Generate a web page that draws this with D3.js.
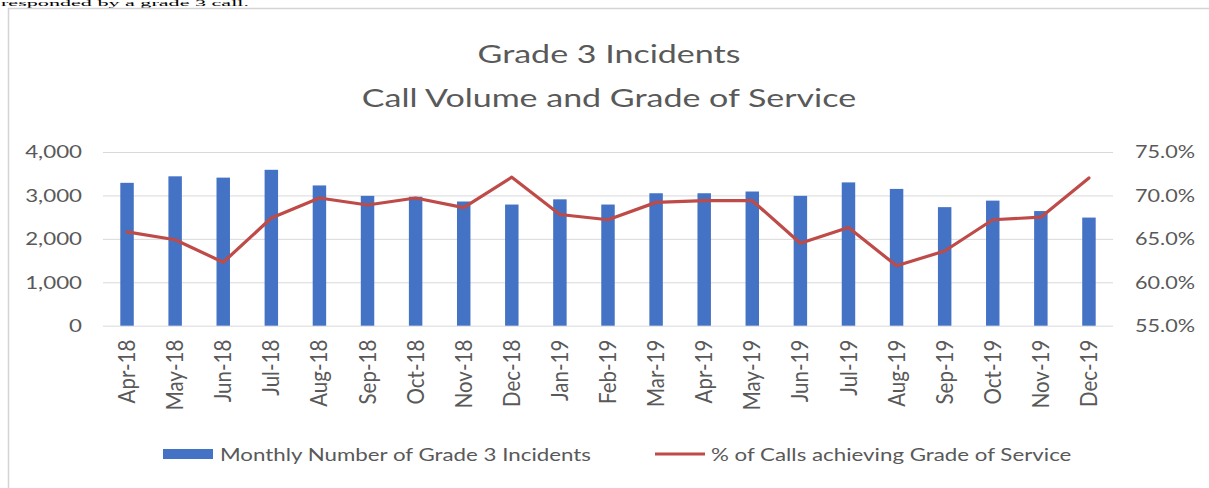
<!DOCTYPE html>
<html>
<head>
<meta charset="utf-8">
<script src="https://cdn.jsdelivr.net/npm/d3@7"></script>
<style>
  body { margin: 0; background: #fff; }
  svg { display: block; }
</style>
</head>
<body>
<svg id="chart" width="1209" height="488"></svg>
<script>
// Monthly categories
const months = ["Apr-18","May-18","Jun-18","Jul-18","Aug-18","Sep-18","Oct-18","Nov-18","Dec-18",
  "Jan-19","Feb-19","Mar-19","Apr-19","May-19","Jun-19","Jul-19","Aug-19","Sep-19","Oct-19","Nov-19","Dec-19"];
// Monthly number of grade 3 incidents
const incidents = [3290,3440,3410,3590,3230,2990,2970,2860,2790,2910,2790,3050,3050,3090,2990,3300,3150,2730,2880,2640,2490];
// % of calls achieving grade of service
const gosPct = [65.8,64.9,62.3,67.4,69.7,68.9,69.7,68.6,72.1,67.8,67.2,69.2,69.4,69.4,64.5,66.3,61.9,63.6,67.2,67.5,72.0];
const leftTicks = [0,1000,2000,3000,4000];
const rightTicks = [55,60,65,70,75];
const titleLines = ["Grade 3 Incidents", "Call Volume and Grade of Service"];
const seriesNames = ["Monthly Number of Grade 3 Incidents", "% of Calls achieving Grade of Service"];

const FONT = "Lato, 'Open Sans', sans-serif";
const TEXT = "#595959";
const BAR = "#4472c4";
const LINE = "#be4b48";
const SX = 1.24;       // horizontal widening of axis and legend text
const SX_TITLE = 1.36; // horizontal widening of title text

const svg = d3.select("#chart");

// Running paragraph text above the chart frame
svg.append("text")
  .attr("x", 1).attr("y", 6)
  .attr("font-family", "'Liberation Serif', 'Times New Roman', serif")
  .attr("font-size", 8).attr("fill", "#000")
  .attr("textLength", 248).attr("lengthAdjust", "spacingAndGlyphs")
  .text("responded by a grade 3 call.");

// Chart frame
svg.append("rect")
  .attr("x", 8.5).attr("y", 8.5).attr("width", 1240).attr("height", 520)
  .attr("fill", "#fff").attr("stroke", "#d4d4d4").attr("stroke-width", 1.5);

const plot = { left: 103, right: 1113, top: 152, bottom: 325.7 };

const x = d3.scaleBand().domain(months)
  .range([plot.left, plot.right]).paddingInner(0.72).paddingOuter(0.36);
const yL = d3.scaleLinear().domain([0, 4000]).range([plot.bottom, plot.top]);
const yR = d3.scaleLinear().domain([55, 75]).range([plot.bottom, plot.top]);

// Title
const title = svg.append("g").attr("fill", TEXT).attr("font-family", FONT).attr("font-size", 25);
titleLines.forEach((t, i) => {
  title.append("text")
    .attr("transform", `translate(609,${63 + i * 44}) scale(${SX_TITLE},1)`)
    .attr("text-anchor", "middle").text(t);
});

// Gridlines
svg.append("g")
  .attr("transform", `translate(${plot.left},0)`)
  .call(d3.axisLeft(yL).tickValues(leftTicks).tickSize(-(plot.right - plot.left)).tickFormat(""))
  .call(g => g.select(".domain").remove())
  .call(g => g.selectAll("line").attr("stroke", "#d9d9d9").attr("stroke-width", 1));

function styleLabels(g, size) {
  g.select(".domain").remove();
  g.selectAll("text").attr("fill", TEXT).attr("font-family", FONT).attr("font-size", size);
}

// Left axis
svg.append("g")
  .attr("transform", `translate(${plot.left},0)`)
  .call(d3.axisLeft(yL).tickValues(leftTicks).tickSize(0).tickPadding(0).tickFormat(d3.format(",")))
  .call(g => styleLabels(g, 18))
  .call(g => g.selectAll("text").attr("x", -21 / SX).attr("transform", `scale(${SX},1)`));

// Right axis
svg.append("g")
  .attr("transform", `translate(${plot.right},0)`)
  .call(d3.axisRight(yR).tickValues(rightTicks).tickSize(0).tickPadding(0).tickFormat(d => d.toFixed(1) + "%"))
  .call(g => styleLabels(g, 18))
  .call(g => g.selectAll("text").attr("x", 22 / SX).attr("transform", `scale(${1.2},1)`).attr("x", 22 / 1.2));

// Bars
svg.append("g").selectAll("rect").data(months).join("rect")
  .attr("x", d => x(d)).attr("width", x.bandwidth())
  .attr("y", (d, i) => yL(incidents[i]))
  .attr("height", (d, i) => yL(0) - yL(incidents[i]))
  .attr("fill", BAR);

// Bottom axis with rotated month labels
svg.append("g")
  .attr("transform", `translate(0,${plot.bottom})`)
  .call(d3.axisBottom(x).tickSize(0).tickPadding(0))
  .call(g => styleLabels(g, 20.5))
  .call(g => g.selectAll("text")
    .attr("transform", `scale(1.12,1) rotate(-90)`)
    .attr("x", -14).attr("y", 0).attr("dy", "0.35em")
    .attr("text-anchor", "end"));

// Grade-of-service line
const line = d3.line()
  .x((d, i) => x(months[i]) + x.bandwidth() / 2)
  .y(d => yR(d));
svg.append("path").datum(gosPct)
  .attr("d", line).attr("fill", "none")
  .attr("stroke", LINE).attr("stroke-width", 3.2)
  .attr("stroke-linejoin", "round").attr("stroke-linecap", "round");

// Legend
const legend = svg.append("g").attr("font-family", FONT).attr("font-size", 18).attr("fill", TEXT);
legend.append("rect").attr("x", 163).attr("y", 449).attr("width", 50).attr("height", 10).attr("fill", BAR);
legend.append("text").attr("transform", `translate(220,461) scale(${SX},1)`).text(seriesNames[0]);
legend.append("line").attr("x1", 655).attr("x2", 705).attr("y1", 454).attr("y2", 454)
  .attr("stroke", LINE).attr("stroke-width", 3.2);
legend.append("text").attr("transform", `translate(711,461) scale(${SX},1)`).text(seriesNames[1]);
</script>
</body>
</html>
